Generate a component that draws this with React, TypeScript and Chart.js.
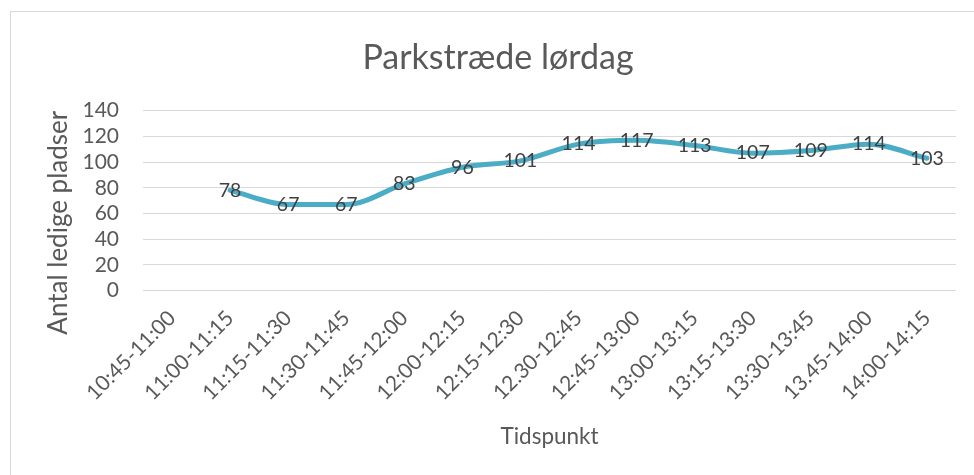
import React, { useEffect, useRef } from "react";
import { Chart, registerables } from "chart.js";

Chart.register(...registerables);

const chartTitle = "Parkstræde lørdag";
const yAxisTitle = "Antal ledige pladser";
const xAxisTitle = "Tidspunkt";
const categories = [
  "10:45-11:00",
  "11:00-11:15",
  "11:15-11:30",
  "11:30-11:45",
  "11:45-12:00",
  "12:00-12:15",
  "12:15-12:30",
  "12.30-12:45",
  "12:45-13:00",
  "13:00-13:15",
  "13:15-13:30",
  "13:30-13:45",
  "13.45-14:00",
  "14:00-14:15",
];
const freeSpots: (number | null)[] = [null, 78, 67, 67, 83, 96, 101, 114, 117, 113, 107, 109, 114, 103];
const yMin = 0;
const yMax = 140;
const yStep = 20;

const FONT = "Lato, 'Open Sans', sans-serif";
const TEXT = "#595959";

const framePlugin = {
  id: "frame",
  beforeDraw(chart: any) {
    const ctx = chart.ctx;
    ctx.save();
    ctx.fillStyle = "#ffffff";
    ctx.fillRect(0, 0, chart.width, chart.height);
    ctx.strokeStyle = "#d9d9d9";
    ctx.lineWidth = 1;
    ctx.strokeRect(10.5, 11.5, chart.width - 22, chart.height + 20);
    ctx.restore();
  },
};

// Excel places the vertical axis title a little lower than the plot-area centre.
const yTitlePlugin = {
  id: "yTitle",
  afterDraw(chart: any) {
    const ctx = chart.ctx;
    const ys = chart.scales.y;
    const ca = chart.chartArea;
    ctx.save();
    ctx.translate(ys.left + 49, (ca.top + ca.bottom) / 2 + 22);
    ctx.rotate(-Math.PI / 2);
    ctx.font = `26px ${FONT}`;
    ctx.fillStyle = TEXT;
    ctx.textAlign = "center";
    ctx.textBaseline = "middle";
    ctx.fillText(yAxisTitle, 0, 0);
    ctx.restore();
  },
};

const valueLabelPlugin = {
  id: "valueLabels",
  afterDatasetsDraw(chart: any) {
    const ctx = chart.ctx;
    ctx.save();
    ctx.font = `19.5px ${FONT}`;
    ctx.fillStyle = "#404040";
    ctx.textAlign = "center";
    ctx.textBaseline = "middle";
    chart.data.datasets.forEach((ds: any, di: number) => {
      const meta = chart.getDatasetMeta(di);
      meta.data.forEach((pt: any, i: number) => {
        const v = ds.data[i];
        if (v === null || v === undefined) return;
        ctx.fillText(String(v), pt.x, pt.y);
      });
    });
    ctx.restore();
  },
};

export default function App() {
  const ref = useRef<HTMLCanvasElement | null>(null);
  useEffect(() => {
    if (!ref.current) return;
    const chart = new Chart(ref.current, {
      type: "line",
      data: {
        labels: categories,
        datasets: [
          {
            label: "Ledige pladser",
            data: freeSpots,
            borderColor: "#4bacc6",
            backgroundColor: "#4bacc6",
            borderWidth: 5,
            pointRadius: 0,
            cubicInterpolationMode: "monotone",
            borderCapStyle: "round",
            borderJoinStyle: "round",
          },
        ],
      },
      options: {
        animation: false,
        responsive: false,
        layout: { padding: { left: 10, right: 12, top: 11, bottom: 0 } },
        plugins: {
          legend: { display: false },
          tooltip: { enabled: false },
          title: {
            display: true,
            text: chartTitle,
            color: TEXT,
            font: { family: FONT, size: 34, weight: "normal" },
            padding: { top: 26.6, bottom: 32.3 },
          },
        },
        scales: {
          x: {
            type: "category",
            offset: true,
            grid: { display: false, drawTicks: false },
            border: { display: false },
            ticks: {
              color: TEXT,
              font: { family: FONT, size: 21 },
              minRotation: 45,
              maxRotation: 45,
              autoSkip: false,
              padding: 15,
            },
            title: {
              display: true,
              text: xAxisTitle,
              color: TEXT,
              font: { family: FONT, size: 22.5 },
              padding: { top: 0, bottom: 24.5 },
            },
            afterFit: (s: any) => {
              s.height = 184.3;
            },
          },
          y: {
            min: yMin,
            max: yMax,
            grid: { color: "#d9d9d9", lineWidth: 1, drawTicks: false },
            border: { display: false },
            ticks: {
              stepSize: yStep,
              autoSkip: false,
              color: TEXT,
              font: { family: FONT, size: 21 },
              padding: 24,
            },
            title: { display: false },
            afterFit: (s: any) => {
              s.width = 133;
            },
          },
          y2: {
            position: "right",
            display: true,
            grid: { display: false, drawTicks: false },
            border: { display: false },
            ticks: { display: false },
            afterFit: (s: any) => {
              s.width = 30;
            },
          },
        },
      },
      plugins: [framePlugin, valueLabelPlugin, yTitlePlugin],
    } as any);
    return () => chart.destroy();
  }, []);
  return (
    <div
      style={{
        position: "fixed",
        left: 0,
        top: 0,
        width: 974,
        height: 475,
        overflow: "hidden",
        background: "#fff",
      }}
    >
      <canvas ref={ref} width={998} height={475} style={{ display: "block", width: 998, height: 475 }} />
    </div>
  );
}
